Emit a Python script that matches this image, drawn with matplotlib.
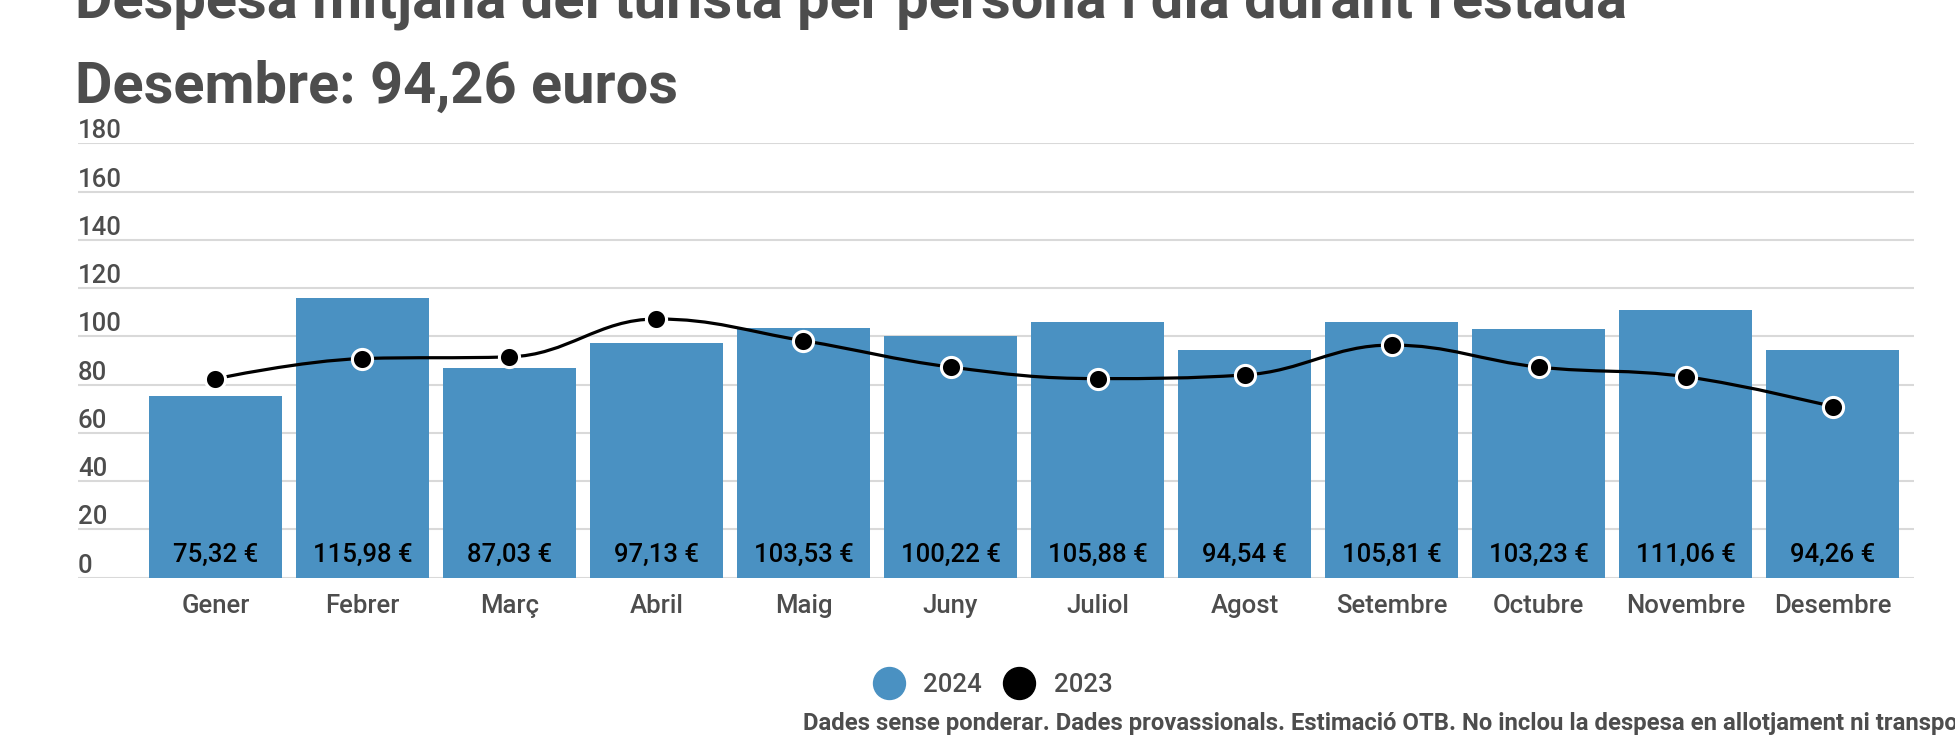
import matplotlib
matplotlib.use("Agg")
import matplotlib.pyplot as plt
from matplotlib.path import Path
from matplotlib.patches import PathPatch
from matplotlib.lines import Line2D

plt.rcParams['font.family'] = ['Roboto', 'DejaVu Sans']

months = ['Gener', 'Febrer', 'Març', 'Abril', 'Maig', 'Juny', 'Juliol',
          'Agost', 'Setembre', 'Octubre', 'Novembre', 'Desembre']
spend_2024 = [75.32, 115.98, 87.03, 97.13, 103.53, 100.22, 105.88,
              94.54, 105.81, 103.23, 111.06, 94.26]
spend_2023 = [82.4, 90.8, 91.5, 107.2, 98.2, 87.3, 82.5,
              84.0, 96.4, 87.3, 83.3, 70.9]
yticks = [0, 20, 40, 60, 80, 100, 120, 140, 160, 180]

title1 = "Despesa mitjana del turista per persona i dia durant l'estada"
title2 = "Desembre: 94,26 euros"
note = ("Dades sense ponderar. Dades provassionals. Estimació OTB. "
        "No inclou la despesa en allotjament ni transport.")

BAR = '#4a91c2'
GREY = '#4d4d4d'


def spline_path(xs, ys, smoothing=1.5):
    # smooth curve like the "spline" series type (bezier through each point)
    n = len(xs)
    left = [None] * n
    right = [None] * n
    d = smoothing + 1
    for i in range(1, n - 1):
        px, py = xs[i], ys[i]
        lx, ly = xs[i - 1], ys[i - 1]
        nx, ny = xs[i + 1], ys[i + 1]
        lcx = (smoothing * px + lx) / d
        lcy = (smoothing * py + ly) / d
        rcx = (smoothing * px + nx) / d
        rcy = (smoothing * py + ny) / d
        corr = 0
        if rcx != lcx:
            corr = (rcy - lcy) * (rcx - px) / (rcx - lcx) + py - rcy
        lcy += corr
        rcy += corr
        if lcy > ly and lcy > py:
            lcy = max(ly, py)
            rcy = 2 * py - lcy
        elif lcy < ly and lcy < py:
            lcy = min(ly, py)
            rcy = 2 * py - lcy
        if rcy > ny and rcy > py:
            rcy = max(ny, py)
            lcy = 2 * py - rcy
        elif rcy < ny and rcy < py:
            rcy = min(ny, py)
            lcy = 2 * py - rcy
        left[i] = (lcx, lcy)
        right[i] = (rcx, rcy)
    verts = [(xs[0], ys[0])]
    codes = [Path.MOVETO]
    for i in range(1, n):
        c1 = right[i - 1] or (xs[i - 1], ys[i - 1])
        c2 = left[i] or (xs[i], ys[i])
        verts += [c1, c2, (xs[i], ys[i])]
        codes += [Path.CURVE4] * 3
    return Path(verts, codes)


fig = plt.figure(figsize=(19.56, 7.40), dpi=100)
ax = fig.add_axes([78 / 1956, 1 - 577.7 / 740, 1836 / 1956, 434.4 / 740])

x = list(range(len(months)))
ax.bar(x, spend_2024, width=0.905, color=BAR, zorder=2)

path = spline_path(x, spend_2023)
ax.add_patch(PathPatch(path, facecolor='none', edgecolor='black', lw=2.3, zorder=3))
ax.plot(x, spend_2023, ls='', marker='o', ms=14.5, mfc='black', mec='white',
        mew=2.2, zorder=4)

for i, v in enumerate(spend_2024):
    lab = f"{v:.2f}".replace('.', ',') + " €"
    ax.annotate(lab, xy=(i, 0), xytext=(0, 11.3), textcoords='offset points',
                ha='center', va='baseline', fontsize=18.5, fontweight='medium',
                color='black', zorder=5)
    ax.annotate(months[i], xy=(i, 0), xytext=(0, -25.4), textcoords='offset points',
                ha='center', va='baseline', fontsize=18.5, fontweight='medium',
                color=GREY, annotation_clip=False)

for t in yticks:
    ax.annotate(str(t), xy=(0, t), xycoords=ax.get_yaxis_transform(),
                xytext=(0, 3.6), textcoords='offset points',
                ha='left', va='baseline', fontsize=18.5, fontweight='medium',
                color=GREY, annotation_clip=False)

ax.set_xlim(-0.935, 11.554)
ax.set_ylim(0, 180)
ax.set_yticks(yticks)
ax.set_xticks([])
ax.tick_params(axis='y', length=0, labelleft=False)
ax.grid(axis='y', color='#d9d9d9', lw=1.5, zorder=0)
ax.set_axisbelow(True)
for s in ax.spines.values():
    s.set_visible(False)

fig.text(75 / 1956, 1 - 17 / 740, title1, fontsize=41.6, fontweight='bold',
         color=GREY, ha='left', va='baseline')
fig.text(75 / 1956, 1 - 103 / 740, title2, fontsize=41.6, fontweight='bold',
         color=GREY, ha='left', va='baseline')

handles = [Line2D([], [], ls='', marker='o', ms=23, color=BAR),
           Line2D([], [], ls='', marker='o', ms=23, color='black')]
fig.legend(handles, ['2024', '2023'], loc='center',
           bbox_to_anchor=(993 / 1956, 1 - 685 / 740), ncol=2, frameon=False,
           fontsize=18.5, labelcolor=GREY, handlelength=1.2,
           handletextpad=0.75, columnspacing=0.85,
           prop={'size': 18.5, 'weight': 'medium'})

fig.text(803 / 1956, 1 - 730 / 740, note, fontsize=17.2, fontweight='bold',
         color=GREY, ha='left', va='baseline')

fig.savefig('out.png', dpi=100)
